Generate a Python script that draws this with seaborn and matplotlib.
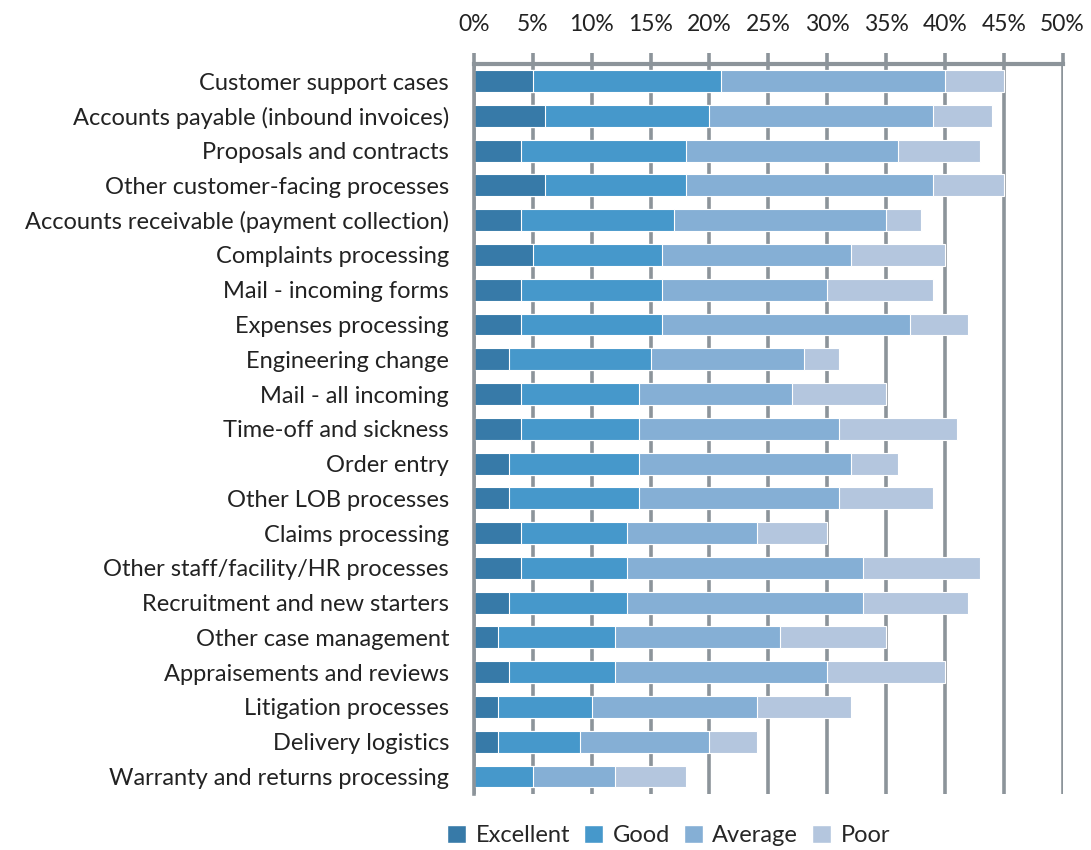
import numpy as np
import pandas as pd
import matplotlib
matplotlib.use("Agg")
import matplotlib.pyplot as plt
import seaborn as sns
from matplotlib.patches import Patch
from matplotlib.ticker import PercentFormatter

# data (percent of respondents)
processes = [
    "Customer support cases", "Accounts payable (inbound invoices)",
    "Proposals and contracts", "Other customer-facing processes",
    "Accounts receivable (payment collection)", "Complaints processing",
    "Mail - incoming forms", "Expenses processing", "Engineering change",
    "Mail - all incoming", "Time-off and sickness", "Order entry",
    "Other LOB processes", "Claims processing",
    "Other staff/facility/HR processes", "Recruitment and new starters",
    "Other case management", "Appraisements and reviews",
    "Litigation processes", "Delivery logistics",
    "Warranty and returns processing",
]
excellent = [5, 6, 4, 6, 4, 5, 4, 4, 3, 4, 4, 3, 3, 4, 4, 3, 2, 3, 2, 2, 0]
good      = [16, 14, 14, 12, 13, 11, 12, 12, 12, 10, 10, 11, 11, 9, 9, 10, 10, 9, 8, 7, 5]
average   = [19, 19, 18, 21, 18, 16, 14, 21, 13, 13, 17, 18, 17, 11, 20, 20, 14, 18, 14, 11, 7]
poor      = [5, 5, 7, 6, 3, 8, 9, 5, 3, 8, 10, 4, 8, 6, 10, 9, 9, 10, 8, 4, 6]

ratings = ["Excellent", "Good", "Average", "Poor"]
colors = ["#377aa8", "#4698cb", "#85afd5", "#b4c6de"]

df = pd.DataFrame({"process": processes, "Excellent": excellent,
                   "Good": good, "Average": average, "Poor": poor})
cum = df[ratings].cumsum(axis=1)

sns.set_style("white")
plt.rcParams["font.family"] = ["Lato", "DejaVu Sans"]

fig, ax = plt.subplots(figsize=(10.91, 8.5), dpi=100)
fig.subplots_adjust(left=0.4345, right=0.974, top=0.925, bottom=0.066)

grid_col = "#8c949a"
ax.set_axisbelow(True)
ax.xaxis.grid(True, color=grid_col, linewidth=2.6)

# stacked bars: draw the cumulative totals from the back
for r, c in reversed(list(zip(ratings, colors))):
    sns.barplot(x=cum[r], y=df["process"], orient="h", color=c,
                width=0.63, edgecolor="white", linewidth=0.8, ax=ax,
                saturation=1)

ax.set_xlim(0, 50)
ax.set_xticks(np.arange(0, 51, 5))
ax.xaxis.set_major_formatter(PercentFormatter(decimals=0))
ax.xaxis.tick_top()
ax.tick_params(axis="x", which="major", direction="out", length=8,
               width=2.6, color=grid_col, pad=13, labelsize=16.5,
               labelcolor="#222222")
ax.tick_params(axis="y", length=0, pad=18, labelsize=17, labelcolor="#222222")
ax.set_xlabel("")
ax.set_ylabel("")

for side in ["right", "bottom"]:
    ax.spines[side].set_visible(False)
ax.spines["top"].set_color(grid_col)
ax.spines["top"].set_linewidth(3)
ax.spines["left"].set_color(grid_col)
ax.spines["left"].set_linewidth(2.6)

handles = [Patch(facecolor=c, label=r) for r, c in zip(ratings, colors)]
fig.legend(handles=handles, loc="lower center", bbox_to_anchor=(0.613, -0.02),
           ncol=4, frameon=False, fontsize=17, handlelength=0.8,
           handleheight=0.8, handletextpad=0.4, columnspacing=0.6)

fig.savefig("out.png", dpi=100)
plt.close("all")
